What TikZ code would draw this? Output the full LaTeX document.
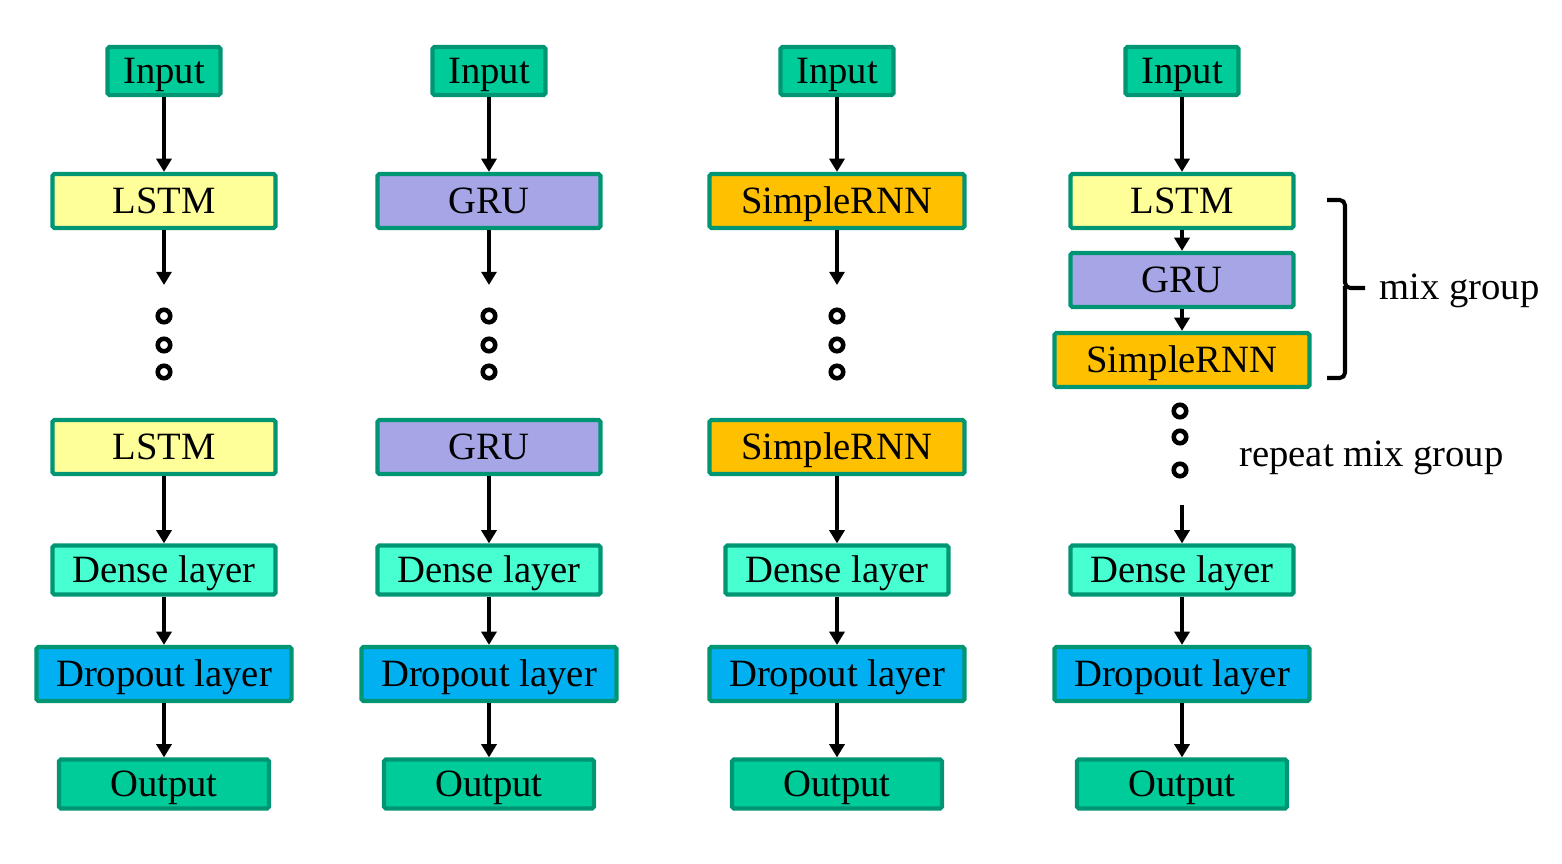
\documentclass[tikz,border=0pt]{standalone}
\usepackage{fontspec}
\setmainfont{Liberation Serif}
\usepackage{tikz}
\usetikzlibrary{
	arrows.meta,
	calc,
	positioning,
}
\definecolor{boxborder}{RGB}{0,150,115}
\definecolor{iogreen}{RGB}{0,204,153}
\definecolor{lstmyellow}{RGB}{255,255,153}
\definecolor{grublue}{RGB}{166,166,230}
\definecolor{rnnorange}{RGB}{255,192,0}
\definecolor{densegreen}{RGB}{72,255,210}
\definecolor{dropblue}{RGB}{0,176,240}
\tikzset{layer box/.style={
	draw=boxborder,
	line width=2.4pt,
	rounded corners=1pt,
	inner sep=0mm,
	text height=14.5pt,
	text depth=0pt,
	font=\fontsize{22}{26}\selectfont,
}}
\tikzset{input box/.style={
	layer box,
	fill=iogreen,
	minimum width=2.26cm,
	minimum height=0.96cm,
}}
\tikzset{output box/.style={
	layer box,
	fill=iogreen,
	minimum width=4.2cm,
	minimum height=0.98cm,
}}
\tikzset{lstm box/.style={
	layer box,
	fill=lstmyellow,
	minimum width=4.46cm,
	minimum height=1.08cm,
}}
\tikzset{gru box/.style={
	layer box,
	fill=grublue,
	minimum width=4.46cm,
	minimum height=1.08cm,
}}
\tikzset{rnn box/.style={
	layer box,
	fill=rnnorange,
	minimum width=5.1cm,
	minimum height=1.08cm,
}}
\tikzset{dense box/.style={
	layer box,
	fill=densegreen,
	minimum width=4.46cm,
	minimum height=0.98cm,
}}
\tikzset{dropout box/.style={
	layer box,
	fill=dropblue,
	minimum width=5.1cm,
	minimum height=1.08cm,
}}
\tikzset{flow/.style={
	-{Triangle[width=8.5pt,length=7.5pt]},
	line width=2.3pt,
}}
\tikzset{dot ring/.style={
	draw,
	circle,
	line width=2.6pt,
	inner sep=0mm,
	minimum size=0.25cm,
}}
\tikzset{side text/.style={
	inner sep=0mm,
	anchor=base west,
	font=\fontsize{22}{26}\selectfont,
}}

\begin{document}
\begin{tikzpicture}[x=0.02cm, y=-0.02cm]
\useasboundingbox (0,0) rectangle (1562,864);

% LSTM column
\node[input box](in1) 		at (164,71) {Input};
\node[lstm box](lstm1a) 	at (164,201) {LSTM};
\coordinate(gap1) 			at (164,285);
\node[dot ring](dot1a) 		at (164,316) {};
\node[dot ring](dot1b) 		at (164,345) {};
\node[dot ring](dot1c) 		at (164,372) {};
\node[lstm box](lstm1b) 	at (164,447) {LSTM};
\node[dense box](dense1) 	at (164,570) {Dense layer};
\node[dropout box](drop1) 	at (164,674) {Dropout layer};
\node[output box](out1) 	at (164,784) {Output};

% GRU column
\node[input box](in2) 		at (489,71) {Input};
\node[gru box](gru2a) 		at (489,201) {GRU};
\coordinate(gap2) 			at (489,285);
\node[dot ring](dot2a) 		at (489,316) {};
\node[dot ring](dot2b) 		at (489,345) {};
\node[dot ring](dot2c) 		at (489,372) {};
\node[gru box](gru2b) 		at (489,447) {GRU};
\node[dense box](dense2) 	at (489,570) {Dense layer};
\node[dropout box](drop2) 	at (489,674) {Dropout layer};
\node[output box](out2) 	at (489,784) {Output};

% SimpleRNN column
\node[input box](in3) 		at (837,71) {Input};
\node[rnn box](rnn3a) 		at (837,201) {SimpleRNN};
\coordinate(gap3) 			at (837,285);
\node[dot ring](dot3a) 		at (837,316) {};
\node[dot ring](dot3b) 		at (837,345) {};
\node[dot ring](dot3c) 		at (837,372) {};
\node[rnn box](rnn3b) 		at (837,447) {SimpleRNN};
\node[dense box](dense3) 	at (837,570) {Dense layer};
\node[dropout box](drop3) 	at (837,674) {Dropout layer};
\node[output box](out3) 	at (837,784) {Output};

% mix column
\node[input box](in4) 		at (1182,71) {Input};
\node[lstm box](lstm4) 		at (1182,201) {LSTM};
\node[gru box](gru4) 		at (1182,280) {GRU};
\node[rnn box](rnn4) 		at (1182,360) {SimpleRNN};
\node[dot ring](dot4a) 		at (1180,411) {};
\node[dot ring](dot4b) 		at (1180,437) {};
\node[dot ring](dot4c) 		at (1180,470) {};
\coordinate(gap4) 			at (1182,505);
\node[dense box](dense4) 	at (1182,570) {Dense layer};
\node[dropout box](drop4) 	at (1182,674) {Dropout layer};
\node[output box](out4) 	at (1182,784) {Output};

% arrows
\draw[flow] (in1) -- (lstm1a);
\draw[flow] (lstm1a) -- (gap1);
\draw[flow] (lstm1b) -- (dense1);
\draw[flow] (dense1) -- (drop1);
\draw[flow] (drop1) -- (out1);

\draw[flow] (in2) -- (gru2a);
\draw[flow] (gru2a) -- (gap2);
\draw[flow] (gru2b) -- (dense2);
\draw[flow] (dense2) -- (drop2);
\draw[flow] (drop2) -- (out2);

\draw[flow] (in3) -- (rnn3a);
\draw[flow] (rnn3a) -- (gap3);
\draw[flow] (rnn3b) -- (dense3);
\draw[flow] (dense3) -- (drop3);
\draw[flow] (drop3) -- (out3);

\draw[flow] (in4) -- (lstm4);
\draw[flow] (lstm4) -- (gru4);
\draw[flow] (gru4) -- (rnn4);
\draw[flow] (gap4) -- (dense4);
\draw[flow] (dense4) -- (drop4);
\draw[flow] (drop4) -- (out4);

% mix group brace
\coordinate(tip) at (1365,288);
\draw[line width=2.3pt, rounded corners=3pt]
(1327,200) -| (1345,288) -- (tip);
\draw[line width=2.3pt, rounded corners=3pt]
(1345,286) |- (1327,378);

\node[side text](mix) 		at (1379,300) {mix group};
\node[side text](repeat) 	at (1239,467) {repeat mix group};

\end{tikzpicture}
\end{document}
